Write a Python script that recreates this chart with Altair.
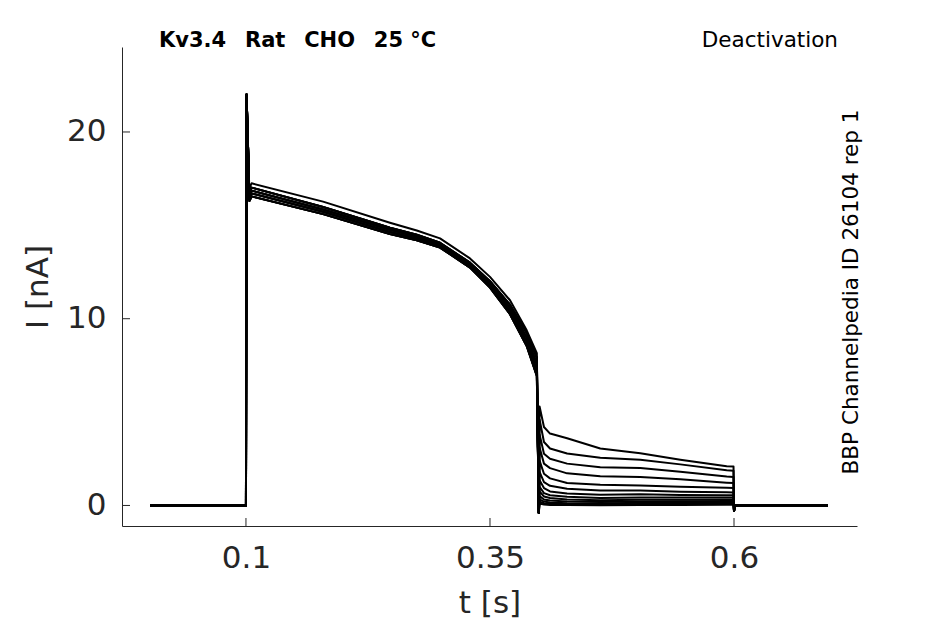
import altair as alt
import pandas as pd

# ---------------- data ----------------
title_text = "Kv3.4\u00a0\u00a0\u2009Rat\u00a0\u00a0\u2009CHO\u00a0\u00a0\u200925 °C"
protocol_text = "Deactivation"
id_text = "BBP Channelpedia ID 26104 rep 1"

x_ticks = [0.1, 0.35, 0.6]
y_ticks = [0, 10, 20]

# holding before the step (s, nA)
pre_t = [0.002, 0.0998]
pre_i = [0.0, 0.0]

# depolarising step, common time base
pulse_t = [0.1, 0.1006, 0.102, 0.1035, 0.1045, 0.1058, 0.179, 0.2475, 0.275, 0.2988,
           0.3295, 0.35, 0.3705, 0.3876, 0.398]
pulse_top = [0.0, 22.0, 19.5, 16.8, 17.1, 17.25, 16.27, 15.14, 14.72, 14.3, 13.23, 12.24, 10.99, 9.38, 8.15]
pulse_hi = [0.0, 22.0, 19.4, 16.6, 16.85, 17.02, 15.98, 14.87, 14.5, 14.07, 13.0, 12.01, 10.75, 9.24, 7.9]
pulse_m1 = [0.0, 22.0, 19.4, 16.5, 16.7, 16.86, 15.85, 14.76, 14.4, 13.98, 12.91, 11.9, 10.58, 9.0, 7.58]
pulse_m2 = [0.0, 22.0, 19.4, 16.4, 16.55, 16.71, 15.73, 14.64, 14.3, 13.9, 12.83, 11.78, 10.41, 8.77, 7.25]
pulse_lo = [0.0, 22.0, 19.4, 16.3, 16.4, 16.55, 15.6, 14.53, 14.2, 13.81, 12.74, 11.67, 10.24, 8.54, 6.93]
pulses = {"top": pulse_top, "hi": pulse_hi, "m1": pulse_m1, "m2": pulse_m2, "lo": pulse_lo}

# capacitive dip at the repolarisation
dip_t = [0.4]
dip_i = [-0.4]

# tail currents, one list per sweep
tail_t = [0.4008, 0.4053, 0.4115, 0.429, 0.463, 0.504, 0.545, 0.5925, 0.5995]
tail_1 = [5.3, 4.2, 3.85, 3.6, 3.05, 2.8, 2.45, 2.1, 2.08]
tail_2 = [4.6, 3.4, 3.05, 2.78, 2.55, 2.45, 2.2, 1.88, 1.86]
tail_3 = [3.8, 2.77, 2.5, 2.24, 2.05, 2.0, 1.8, 1.55, 1.53]
tail_4 = [3.1, 2.24, 2.0, 1.72, 1.57, 1.52, 1.4, 1.22, 1.2]
tail_5 = [2.4, 1.7, 1.45, 1.2, 1.11, 1.07, 1.0, 0.95, 0.94]
tail_6 = [1.8, 1.25, 1.05, 0.9, 0.8, 0.8, 0.74, 0.71, 0.7]
tail_7 = [1.35, 0.93, 0.75, 0.64, 0.57, 0.6, 0.56, 0.55, 0.54]
tail_8 = [1.0, 0.66, 0.55, 0.47, 0.4, 0.43, 0.42, 0.42, 0.42]
tail_9 = [0.75, 0.48, 0.4, 0.32, 0.28, 0.31, 0.31, 0.32, 0.32]
tail_10 = [0.5, 0.32, 0.26, 0.21, 0.19, 0.21, 0.22, 0.24, 0.24]
tail_11 = [0.33, 0.21, 0.16, 0.12, 0.1, 0.14, 0.15, 0.16, 0.16]
tail_12 = [0.2, 0.12, 0.09, 0.07, 0.05, 0.08, 0.09, 0.1, 0.1]
tail_13 = [0.1, 0.05, 0.03, 0.02, 0.01, 0.03, 0.03, 0.04, 0.04]
tails = [tail_1, tail_2, tail_3, tail_4, tail_5, tail_6, tail_7, tail_8,
         tail_9, tail_10, tail_11, tail_12, tail_13]
pulse_group = ["top", "hi", "m1", "m2", "lo", "hi", "m1", "m2", "lo", "hi", "m1", "m2", "lo"]

# back to holding
post_t = [0.6, 0.6008, 0.696]
post_i = [-0.3, 0.0, 0.0]

# ---------------- build table ----------------
rows = []
for k, tail in enumerate(tails):
    ts = pre_t + pulse_t + dip_t + tail_t + post_t
    vs = pre_i + pulses[pulse_group[k]] + dip_i + tail + post_i
    for j, (t, v) in enumerate(zip(ts, vs)):
        rows.append({"sweep": k, "t": t, "i": v, "j": j})
df = pd.DataFrame(rows)

W, H = 735, 479
GRAY = "#262626"
FONT = "DejaVu Sans"

xscale = alt.Scale(domain=[-0.027, 0.726], nice=False, zero=False)
yscale = alt.Scale(domain=[-1.10, 24.55], nice=False, zero=False)

x_axis = alt.Axis(values=x_ticks, labelExpr="format(datum.value, '.2~f')",
                  ticks=False, grid=False, domainColor=GRAY, domainWidth=1,
                  labelFont=FONT, labelFontSize=31, labelColor=GRAY, labelPadding=17,
                  titleFont=FONT, titleFontSize=31, titleFontWeight="normal", titleColor=GRAY,
                  titlePadding=15)
y_axis = alt.Axis(values=y_ticks, labelExpr="format(datum.value, 'd')",
                  ticks=False, grid=False, domainColor=GRAY, domainWidth=1,
                  labelFont=FONT, labelFontSize=31, labelColor=GRAY, labelPadding=16,
                  titleFont=FONT, titleFontSize=31, titleFontWeight="normal", titleColor=GRAY,
                  titlePadding=12)

lines = alt.Chart(df).mark_line(color="black", strokeWidth=2, strokeJoin="round").encode(
    x=alt.X("t:Q", scale=xscale, title="t [s]", axis=x_axis),
    y=alt.Y("i:Q", scale=yscale, title="I [nA]", axis=y_axis),
    detail="sweep:N",
    order="j:Q",
)

xt = alt.Chart(pd.DataFrame({"t": x_ticks})).mark_rule(color=GRAY, strokeWidth=1).encode(
    x=alt.X("t:Q", scale=xscale, title="t [s]", axis=x_axis), y=alt.value(H), y2=alt.value(H - 8))
yt = alt.Chart(pd.DataFrame({"i": y_ticks})).mark_rule(color=GRAY, strokeWidth=1).encode(
    y=alt.Y("i:Q", scale=yscale, title="I [nA]", axis=y_axis), x=alt.value(0), x2=alt.value(8))

t1 = alt.Chart(pd.DataFrame({"s": [title_text]})).mark_text(
    font=FONT, fontSize=21, fontWeight="bold", color="black", align="left", baseline="alphabetic"
).encode(x=alt.value(37), y=alt.value(0), text="s:N")
t2 = alt.Chart(pd.DataFrame({"s": [protocol_text]})).mark_text(
    font=FONT, fontSize=21.5, color="black", align="right", baseline="alphabetic"
).encode(x=alt.value(716), y=alt.value(0), text="s:N")
t3 = alt.Chart(pd.DataFrame({"s": [id_text]})).mark_text(
    font=FONT, fontSize=21.5, color="black", align="center", baseline="alphabetic", angle=270
).encode(x=alt.value(736), y=alt.value(245), text="s:N")

chart = alt.layer(lines, xt, yt, t1, t2, t3).properties(
    width=W, height=H,
    background="white",
    autosize=alt.AutoSizeParams(type="none"),
    padding={"left": 114, "top": 39, "right": 80, "bottom": 96},
).configure_view(stroke=None)

chart.save("out.html", embed_options={"renderer": "svg", "actions": False})
